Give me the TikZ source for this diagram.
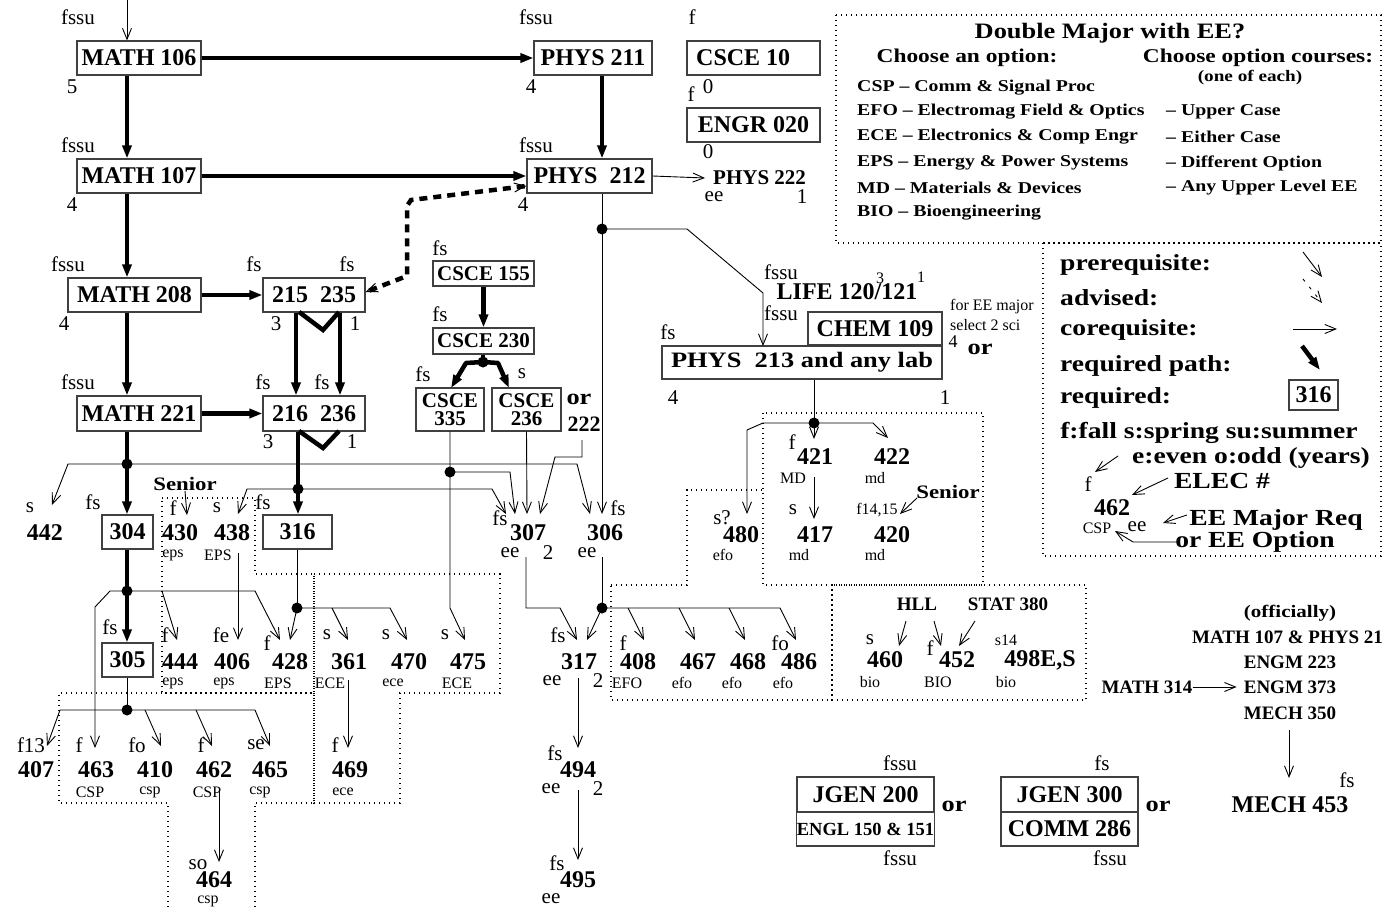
\documentclass[tikz,border=0pt]{standalone}
\usepackage{fontspec}
\setmainfont{Liberation Serif}
\newfontfamily\cbw[FakeStretch=1.2]{Liberation Serif}
\usetikzlibrary{arrows.meta,calc}
\begin{document}
\begin{tikzpicture}[x=1pt,y=-1pt,
  lab/.style={font=\fontsize{21}{21}\selectfont,inner sep=0pt},
  sml/.style={font=\fontsize{16}{16}\selectfont,inner sep=0pt},
  num/.style={font=\bfseries\fontsize{24}{24}\selectfont,inner sep=0pt},
  bnum/.style={font=\bfseries\fontsize{19}{19}\selectfont,inner sep=0pt},
  wide/.style={font=\cbw\bfseries\fontsize{#1}{#1}\selectfont,inner sep=0pt},
  crs/.style={draw=black!75,line width=1.1pt,inner sep=0pt,font=\bfseries\fontsize{24}{24}\selectfont},
  pre/.style={draw=black,line width=0.9pt,-{Straight Barb[length=11pt,width=9pt]}},
  ln/.style={draw=black,line width=0.9pt},
  req/.style={line width=4.5pt,-{Triangle[length=13pt,width=9pt]}},
  rq/.style={line width=4.5pt},
  adv/.style={line width=4.5pt,dash pattern=on 8pt off 6pt,
     {Straight Barb[length=11pt,width=9pt,line width=1pt]}-{Straight Barb[length=11pt,width=9pt,line width=1pt]}},
  jd/.style={circle,fill,inner sep=0pt,minimum size=11pt},
  reg/.style={line width=1.2pt,dash pattern=on 1.2pt off 3.8pt},
]
\useasboundingbox (0,0) rectangle (1385,907);

% ---------- dotted option regions ----------
\draw[reg] (162,498) -- (255,498) -- (255,574) -- (314,574) -- (314,693) -- (162,693) -- cycle;
\draw[reg] (314,574) -- (500,574) -- (500,693) -- (400,693) -- (400,803) -- (314,803) -- cycle;
\draw[reg] (255,907) -- (255,803) -- (314,803) -- (314,693) -- (59,693) -- (59,803) -- (168,803) -- (168,907);
\draw[reg] (611,585) -- (687,585) -- (687,490) -- (763,490) -- (763,585) -- (832,585) -- (832,700) -- (611,700) -- cycle;
\draw[reg] (763,413) rectangle (983,585);
\draw[reg] (832,585) rectangle (1086,700);
\draw[reg] (836,15) rectangle (1381,243);
\draw[reg] (1043,243) rectangle (1381,556);

% ---------- top rows ----------
\coordinate (top) at (127,0);
\coordinate (cA) at (127,0);
\coordinate (cP) at (602,0);
\coordinate (cL) at (296,0);
\coordinate (cR) at (340,0);

\node[lab] (l106) at (78,17) {fssu};
\node[crs,minimum width=124pt,minimum height=34pt] (m106) at (139,58) {MATH 106};
\node[lab] (k106) at (72,87) {5};
\node[lab] (l211) at (536,17) {fssu};
\node[crs,minimum width=118pt,minimum height=34pt] (p211) at (593,58) {PHYS 211};
\node[lab] (k211) at (531,87) {4};
\node[lab] (l10) at (692,17) {f};
\node[crs,minimum width=133pt,minimum height=34pt] (c10) at (753.5,58) {};
\node[num,anchor=west] (t10) at (696,58) {CSCE 10};
\node[lab] (lE) at (691,94) {f};
\node[lab] (k10) at (708,87) {0};
\node[crs,minimum width=133pt,minimum height=34pt] (e020) at (753.5,125) {ENGR 020};
\node[lab] (kE) at (708,152) {0};

\node[lab] (l107) at (78,145) {fssu};
\node[crs,minimum width=124pt,minimum height=34pt] (m107) at (139,176) {MATH 107};
\node[lab] (k107) at (72,205) {4};
\node[lab] (l212) at (536,145) {fssu};
\node[crs,minimum width=125pt,minimum height=34pt] (p212) at (589.5,176) {PHYS\ \ 212};
\node[lab] (k212) at (523,205) {4};
\node[font=\bfseries\fontsize{21}{21}\selectfont,inner sep=0pt,anchor=west] (p222) at (713,178) {PHYS 222};
\node[lab] (e222) at (714,197) {ee};
\node[lab] (k222) at (802,197) {1};

\node[lab] (l208) at (68,264) {fssu};
\node[crs,minimum width=133pt,minimum height=34pt] (m208) at (134.5,295) {MATH 208};
\node[lab] (k208) at (64,324) {4};
\node[lab] (l215) at (254,264) {fs};
\node[lab] (l235) at (347,264) {fs};
\node[crs,minimum width=102pt,minimum height=34pt] (b215) at (314,295) {215\ \ 235};
\node[lab] (k215) at (276,324) {3};
\node[lab] (k235) at (355,324) {1};

\node[lab] (l221) at (78,382) {fssu};
\node[crs,minimum width=124pt,minimum height=35pt] (m221) at (139,413.5) {MATH 221};
\node[lab] (l216) at (263,382) {fs};
\node[lab] (l236) at (322,382) {fs};
\node[crs,minimum width=102pt,minimum height=35pt] (b216) at (314,413.5) {216\ \ 236};
\node[lab] (k216) at (268,442) {3};
\node[lab] (k236) at (352,442) {1};

% ---------- CSCE ----------
\node[lab] (l155) at (440,248) {fs};
\node[crs,minimum width=101pt,minimum height=25pt,font=\bfseries\fontsize{21}{21}\selectfont] (c155) at (483.5,273.5) {CSCE 155};
\node[lab] (l230) at (440,314) {fs};
\node[crs,minimum width=101pt,minimum height=26pt,font=\bfseries\fontsize{21}{21}\selectfont] (c230) at (483.5,341) {CSCE 230};
\node[jd] (d230) at (483,362) {};
\node[lab] (l335) at (423,374) {fs};
\node[lab] (l236b) at (522,374) {s};
\node[crs,minimum width=68pt,minimum height=43pt,align=center,font=\bfseries\fontsize{21}{18}\selectfont] (c335) at (450,409.5) {CSCE\\335};
\node[crs,minimum width=69pt,minimum height=43pt,align=center,font=\bfseries\fontsize{21}{18}\selectfont] (c236) at (526.5,409.5) {CSCE\\236};
\node[wide=22] (or1) at (579,399) {or};
\node[font=\bfseries\fontsize{22}{22}\selectfont,inner sep=0pt] (n222) at (584,424) {222};

% ---------- sciences ----------
\node[lab] (llife) at (781,272) {fssu};
\node[num] (life) at (847,292) {LIFE 120/121};
\node[sml] (klife3) at (880,278) {3};
\node[sml] (klife1) at (921,277) {1};
\node[lab] (lchem) at (781,313) {fssu};
\node[crs,minimum width=134pt,minimum height=33pt] (chem) at (875,328.5) {CHEM 109};
\node[crs,minimum width=280pt,minimum height=33pt,font=\cbw\bfseries\fontsize{22}{22}\selectfont] (p213) at (802,362.5) {PHYS\ \ 213 and any lab};
\node[lab] (l213) at (668,332) {fs};
\node[sml,anchor=west] (sel1) at (950,307) {for EE major};
\node[sml,anchor=west] (sel2) at (950,325) {select 2 sci};
\node[font=\fontsize{18}{18}\selectfont,inner sep=0pt] (kchem) at (953,342) {4};
\node[wide=22] (or2) at (980,349) {or};
\node[lab] (k213) at (673,398) {4};
\node[lab] (k213b) at (945,398) {1};

% ---------- MD region ----------
\node[jd] (d213) at (814,423) {};
\node[lab] (l421) at (792,442) {f};
\node[num] (n421) at (815,457) {421};
\node[sml] (o421) at (793,478) {MD};
\node[num] (n422) at (892,457) {422};
\node[sml] (o422) at (875,478) {md};
\node[lab] (l417) at (793,510) {s};
\node[num] (n417) at (815,535) {417};
\node[sml] (o417) at (799,555) {md};
\node[sml] (l420) at (877,510) {f14,15};
\node[num] (n420) at (892,535) {420};
\node[sml] (o420) at (875,555) {md};
\node[wide=19] (sen2) at (948,492) {Senior};
\node[lab] (l480) at (722,518) {s?};
\node[num] (n480) at (741,535) {480};
\node[sml] (o480) at (723,555) {efo};

% ---------- 300 row ----------
\node[lab] (l442) at (30,508) {s};
\node[num] (n442) at (45,533) {442};
\node[lab] (l304) at (93,502) {fs};
\node[crs,minimum width=51pt,minimum height=34pt] (n304) at (127.5,532) {304};
\node[wide=19] (sen1) at (185,484) {Senior};
\node[lab] (l430) at (173,508) {f};
\node[num] (n430) at (180,533) {430};
\node[sml] (o430) at (173,555) {eps};
\node[lab] (l438) at (217,508) {s};
\node[num] (n438) at (232,533) {438};
\node[sml] (o438) at (218,555) {EPS};
\node[lab] (l316) at (263,502) {fs};
\node[crs,minimum width=69pt,minimum height=34pt] (n316) at (297.5,532) {316};
\node[lab] (l307) at (500,518) {fs};
\node[num] (n307) at (528,533) {307};
\node[lab] (e307) at (510,553) {ee};
\node[lab] (k307) at (548,553) {2};
\node[lab] (l306) at (618,508) {fs};
\node[num] (n306) at (605,533) {306};
\node[lab] (e306) at (587,553) {ee};

% ---------- 400 row ----------
\node[lab] (l305) at (110,627) {fs};
\node[crs,minimum width=51pt,minimum height=34pt] (n305) at (127.5,660) {305};
\node[lab] (l444) at (165,635) {f};  \node[num] (n444) at (180,662) {444}; \node[sml] (o444) at (173,683) {eps};
\node[lab] (l406) at (221,635) {fe}; \node[num] (n406) at (232,662) {406}; \node[sml] (o406) at (224,683) {eps};
\node[lab] (l428) at (267,643) {f};  \node[num] (n428) at (290,662) {428}; \node[sml] (o428) at (278,683) {EPS};
\node[lab] (l361) at (327,635) {s};  \node[num] (n361) at (349,662) {361}; \node[sml] (o361) at (330,683) {ECE};
\node[lab] (l470) at (386,635) {s};  \node[num] (n470) at (409,662) {470}; \node[sml] (o470) at (393,683) {ece};
\node[lab] (l475) at (445,635) {s};  \node[num] (n475) at (468,662) {475}; \node[sml] (o475) at (457,683) {ECE};
\node[lab] (l317) at (558,635) {fs}; \node[num] (n317) at (579,662) {317}; \node[lab] (e317) at (552,681) {ee}; \node[lab] (k317) at (598,681) {2};
\node[lab] (l408) at (623,643) {f};  \node[num] (n408) at (638,662) {408}; \node[sml] (o408) at (627,683) {EFO};
\node[num] (n467) at (698,662) {467}; \node[sml] (o467) at (682,683) {efo};
\node[num] (n468) at (748,662) {468}; \node[sml] (o468) at (732,683) {efo};
\node[lab] (l486) at (780,643) {fo}; \node[num] (n486) at (799,662) {486}; \node[sml] (o486) at (783,683) {efo};

% ---------- bottom rows ----------
\node[lab] (l407) at (31,745) {f13}; \node[num] (n407) at (36,770) {407};
\node[lab] (l463) at (79,745) {f};   \node[num] (n463) at (96,770) {463};  \node[sml] (o463) at (90,792) {CSP};
\node[lab] (l410) at (137,745) {fo}; \node[num] (n410) at (155,770) {410}; \node[sml] (o410) at (150,792) {csp};
\node[lab] (l462) at (201,745) {f};  \node[num] (n462) at (214,770) {462}; \node[sml] (o462) at (207,792) {CSP};
\node[lab] (l465) at (256,745) {se}; \node[num] (n465) at (270,770) {465}; \node[sml] (o465) at (260,792) {csp};
\node[lab] (l469) at (335,745) {f};  \node[num] (n469) at (350,770) {469}; \node[sml] (o469) at (343,792) {ece};
\node[lab] (l494) at (555,753) {fs}; \node[num] (n494) at (578,770) {494}; \node[lab] (e494) at (551,789) {ee}; \node[lab] (k494) at (598,789) {2};
\node[lab] (l464) at (198,865) {so}; \node[num] (n464) at (214,880) {464}; \node[sml] (o464) at (208,901) {csp};
\node[lab] (l495) at (557,863) {fs}; \node[num] (n495) at (578,880) {495}; \node[lab] (e495) at (551,899) {ee};

% ---------- BIO ----------
\node[bnum] (hll) at (917,604) {HLL};
\node[bnum] (stat) at (1008,604) {STAT 380};
\node[lab] (l460) at (870,640) {s};   \node[num] (n460) at (885,660) {460};  \node[sml] (o460) at (870,682) {bio};
\node[lab] (l452) at (930,648) {f};   \node[num] (n452) at (957,660) {452};  \node[sml] (o452) at (938,682) {BIO};
\node[sml] (l498) at (1006,640) {s14}; \node[num] (n498) at (1040,660) {498E,S}; \node[sml] (o498) at (1006,682) {bio};

% ---------- mech ----------
\node[wide=17.5] (offi) at (1290,613) {(officially)};
\node[bnum,anchor=west] (mp) at (1192,637) {MATH 107 \& PHYS 21};
\node[bnum] (e223) at (1290,662) {ENGM 223};
\node[bnum] (m314) at (1147,687) {MATH 314};
\node[bnum] (e373) at (1290,687) {ENGM 373};
\node[bnum] (m350) at (1290,713) {MECH 350};
\node[lab] (l453) at (1347,780) {fs};
\node[num] (m453) at (1290,805) {MECH 453};

% ---------- JGEN ----------
\node[lab] (lj200) at (900,763) {fssu};
\node[crs,minimum width=137pt,minimum height=35pt] (j200) at (865.5,794.5) {JGEN 200};
\node[crs,minimum width=137pt,minimum height=34pt,font=\bfseries\fontsize{18.5}{18.5}\selectfont] (e150) at (865.5,829) {ENGL 150 \& 151};
\node[lab] (le150) at (900,858) {fssu};
\node[wide=22] (or3) at (954,806) {or};
\node[lab] (lj300) at (1102,763) {fs};
\node[crs,minimum width=137pt,minimum height=35pt] (j300) at (1069.5,794.5) {JGEN 300};
\node[crs,minimum width=137pt,minimum height=34pt] (c286) at (1069.5,829) {COMM 286};
\node[lab] (lc286) at (1110,858) {fssu};
\node[wide=22] (or4) at (1158,806) {or};

% ---------- legend 1 ----------
\node[wide=22] (lg0) at (1110,33) {Double Major with EE?};
\node[wide=19.5] (lg1) at (967,58) {Choose an option:};
\node[wide=19.5] (lg2) at (1258,58) {Choose option courses:};
\node[wide=16] (lg3) at (1250,78) {(one of each)};
\node[wide=16.5,anchor=west] (o1) at (857,88) {CSP – Comm \& Signal Proc};
\node[wide=16.5,anchor=west] (o2) at (857,112) {EFO – Electromag Field \& Optics};
\node[wide=16.5,anchor=west] (o3) at (857,137) {ECE – Electronics \& Comp Engr};
\node[wide=16.5,anchor=west] (o4) at (857,163) {EPS – Energy \& Power Systems};
\node[wide=16.5,anchor=west] (o5) at (857,188) {MD – Materials \& Devices};
\node[wide=16.5,anchor=west] (o6) at (857,213) {BIO – Bioengineering};
\node[wide=16.5,anchor=west] (r1) at (1166,112) {– Upper Case};
\node[wide=16.5,anchor=west] (r2) at (1166,137) {– Either Case};
\node[wide=16.5,anchor=west] (r3) at (1166,163) {– Different Option};
\node[wide=16.5,anchor=west] (r4) at (1166,188) {– Any Upper Level EE};

% ---------- legend 2 ----------
\node[wide=23,anchor=west] (k1) at (1060,265) {prerequisite:};
\node[wide=23,anchor=west] (k2) at (1060,298) {advised:};
\node[wide=23,anchor=west] (k3) at (1060,330) {corequisite:};
\node[wide=23,anchor=west] (k4) at (1060,366) {required path:};
\node[wide=23,anchor=west] (k5) at (1060,398) {required:};
\node[crs,minimum width=49pt,minimum height=30pt] (k316) at (1313.5,395) {316};
\node[wide=23] (k6) at (1209,433) {f:fall s:spring su:summer};
\node[wide=23] (k7) at (1251,458) {e:even o:odd (years)};
\node[wide=23] (k8) at (1222,481) {ELEC \#};
\node[lab] (kf) at (1088,484) {f};
\node[num] (k462) at (1112,508) {462};
\node[sml] (kcsp) at (1097,528) {CSP};
\node[lab] (kee) at (1137,527) {ee};
\node[wide=23] (k9) at (1276,520) {EE Major Req};
\node[wide=23] (k10) at (1255,542) {or EE Option};

% ---------- required paths ----------
\draw[pre] (top) -- (m106.north -| top);
\draw[req] (m106.east) -- (p211.west);
\draw[req] (m107.east) -- (p212.west);
\draw[req] (m106.south -| cA) -- (m107.north -| cA);
\draw[req] (m107.south -| cA) -- (m208.north -| cA);
\draw[req] (m208.south -| cA) -- (m221.north -| cA);
\draw[req] (m208.east) -- (b215.west);
\draw[req] (m221.east) -- (b216.west);
\draw[req] (p211.south -| cP) -- (p212.north -| cP);
\draw[req] (b215.south -| cL) -- (b216.north -| cL);
\draw[req] (b215.south -| cR) -- (b216.north -| cR);
\draw[rq,line join=miter] (299,312) -- (323,330) -- (339,312);
\draw[rq,line join=miter] (299,431) -- (323,448) -- (339,431);
\node[jd] (d216) at (298,489) {};
\draw[rq] (b216.south -| d216) -- (d216.center);
\draw[req] (d216.center) -- (n316.north -| d216);
\node[jd] (d221) at (127,464) {};
\draw[rq] (m221.south -| cA) -- (d221.center);
\draw[req] (d221.center) -- (n304.north -| cA);
\node[jd] (d304) at (127,591) {};
\draw[rq] (n304.south -| cA) -- (d304.center);
\draw[req] (d304.center) -- (n305.north -| cA);
\draw[req] (c155.south) -- (c230.north);
\draw[rq] (c230.south -| d230) -- (d230.center);
\draw[req,line join=round] (d230.center) -- (466,363) -- (451,388);
\draw[req,line join=round] (d230.center) -- (498,363) -- (509,388);
\draw[adv] ([yshift=-10pt]p212.west) -- (411,200) -- (407,206) -- (407,276) -- ([yshift=3pt]b215.east);

% ---------- prerequisites ----------
\draw[pre] (p212.east) -- ([xshift=-8pt]p222.west);
\node[jd] (d212) at (602,229) {};
\draw[pre] (p212.south -| cP) -- (602,514);
\draw[pre] (d212.center) -- (687,229) -- (763,293) -- (763,346);
\draw[pre] (d221.center) -- (68,464) -- (52,505);
\draw[pre] (d221.center) -- (577,464) -- (590,514);
\draw[pre] (sen1.south) -- (187,515);
\draw[pre] (d216.center) -- (247,489) -- (238,514);
\draw[pre] (d216.center) -- (492,489) -- (506,514);
\node[jd] (d335) at (450,472) {};
\draw[pre] (c335.south) -- (450,608) -- (465,640);
\draw[pre] (d335.center) -- (510,472) -- (515,514);
\draw[pre] (c236.south) -- (527,514);
\draw[pre] (582,440) -- (582,457) -- (555,457) -- (540,514);
\draw[pre] (526,557) -- (526,608) -- (560,608) -- (577,640);
\node[jd] (d306) at (602,608) {};
\draw[ln] (602,557) -- (d306.center);
\draw[pre] (d306.center) -- (587,640);
\draw[pre] (d306.center) -- (780,608) -- (796,640);
\draw[pre] (628,608) -- (644,640);
\draw[pre] (679,608) -- (695,640);
\draw[pre] (729,608) -- (745,640);
\draw[pre] (578,678) -- (578,748);
\draw[pre] (578,790) -- (578,860);
\draw[pre] (d304.center) -- (110,591) -- (95,607) -- (95,748);
\draw[pre] (d304.center) -- (255,591) -- (280,640);
\draw[pre] (162,591) -- (177,640);
\draw[pre] (238,553) -- (238,640);
\node[jd] (d316) at (297,608) {};
\draw[ln] (n316.south -| d316) -- (d316.center);
\draw[pre] (d316.center) -- (290,640);
\draw[pre] (d316.center) -- (390,608) -- (407,640);
\draw[pre] (332,608) -- (348,640);
\draw[pre] (348,680) -- (348,748);
\node[jd] (d305) at (127,710) {};
\draw[ln] (n305.south -| d305) -- (d305.center);
\draw[pre] (d305.center) -- (60,710) -- (47,746);
\draw[pre] (d305.center) -- (255,710) -- (270,746);
\draw[pre] (145,710) -- (161,746);
\draw[pre] (196,710) -- (212,746);
\draw[pre] (219,789) -- (219,862);
\draw[ln] (p213.south -| d213) -- (d213.center);
\draw[pre] (d213.center) -- (814,439);
\draw[pre] (d213.center) -- (873,423) -- (888,438);
\draw[pre] (d213.center) -- (763,423) -- (747,430) -- (747,514);
\draw[pre] (814,477) -- (814,519);
\draw[pre] (917,498) -- (900,514);
\draw[pre] (906,621) -- (899,646);
\draw[pre] (934,621) -- (941,646);
\draw[pre] (975,621) -- (959,646);
\draw[pre] (m314.east) -- ([xshift=-7pt]e373.west);
\draw[pre] (1289,730) -- (1289,778);

% ---------- legend arrows ----------
\draw[pre] (1303,252) -- (1322,277);
\draw[pre,dash pattern=on 3pt off 7pt] (1303,279) -- (1322,303);
\draw[pre] (1293,329) -- (1337,329);
\draw[req] (1302,346) -- (1320,370);
\draw[pre] (1118,456) -- (1095,472);
\draw[pre] (1168,478) -- (1132,495);
\draw[pre] (1187,515) -- (1163,523);
\draw[pre] (1178,542) -- (1133,542) -- (1115,531);
\end{tikzpicture}
\end{document}
